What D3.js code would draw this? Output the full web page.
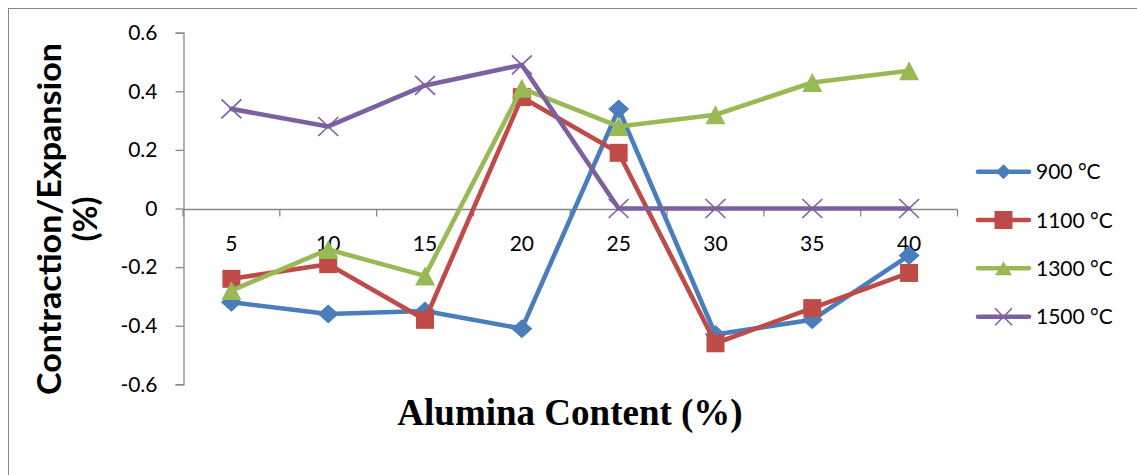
<!DOCTYPE html>
<html>
<head>
<meta charset="utf-8">
<script src="https://cdn.jsdelivr.net/npm/d3@7"></script>
<style>
  html, body { margin: 0; padding: 0; background: #fff; }
  svg { display: block; }
</style>
</head>
<body>
<svg id="chart" width="1137" height="475"></svg>
<script>
// Alumina content categories (%)
const categories = ["5", "10", "15", "20", "25", "30", "35", "40"];

// Contraction / expansion (%) per firing temperature
const series900  = [-0.32, -0.36, -0.35, -0.41, 0.34, -0.43, -0.38, -0.16];
const series1100 = [-0.24, -0.19, -0.38, 0.38, 0.19, -0.46, -0.34, -0.22];
const series1300 = [-0.28, -0.14, -0.23, 0.41, 0.28, 0.32, 0.43, 0.47];
const series1500 = [0.34, 0.28, 0.42, 0.49, 0, 0, 0, 0];

const seriesNames = ["900 °C", "1100 °C", "1300 °C", "1500 °C"];
const yTicks = [-0.6, -0.4, -0.2, 0, 0.2, 0.4, 0.6];

const colors = ["#4A7EBB", "#BE4B48", "#98B954", "#7D60A0"];
const markerKinds = ["diamond", "square", "triangle", "cross"];
const allSeries = [series900, series1100, series1300, series1500];

const svg = d3.select("#chart");
const axisColor = "#868686";
const sansFont = "Lato, 'Liberation Sans', sans-serif";

// Chart frame
svg.append("rect")
  .attr("x", 8.5).attr("y", 8.5)
  .attr("width", 1140).attr("height", 480)
  .attr("fill", "none").attr("stroke", axisColor).attr("stroke-width", 1);

const plot = { left: 183, right: 957.5, top: 32.7, bottom: 384.3 };

const x = d3.scaleBand().domain(categories).range([plot.left, plot.right]).padding(0);
const y = d3.scaleLinear().domain([-0.6, 0.6]).range([plot.bottom, plot.top]);
const cx = c => x(c) + x.bandwidth() / 2;

// Y axis
const yAxis = d3.axisLeft(y)
  .tickValues(yTicks)
  .tickSize(8)
  .tickPadding(18)
  .tickFormat(d => d === 0 ? "0" : d.toFixed(1));
const gy = svg.append("g")
  .attr("transform", `translate(${plot.left + 0.5},0)`)
  .call(yAxis);
gy.select(".domain").attr("stroke", axisColor).attr("stroke-width", 1.3);
gy.selectAll(".tick line").attr("stroke", axisColor).attr("stroke-width", 1.3);
gy.selectAll(".tick text")
  .attr("fill", "#000")
  .style("font-family", sansFont)
  .style("font-size", "21px");

// X axis along zero line, ticks at category boundaries
const y0 = Math.round(y(0)) + 0.5;
const gx = svg.append("g");
gx.append("line")
  .attr("x1", plot.left).attr("x2", plot.right)
  .attr("y1", y0).attr("y2", y0)
  .attr("stroke", axisColor).attr("stroke-width", 1.3);
const edges = categories.map(c => x(c)).concat([x(categories[categories.length - 1]) + x.bandwidth()]);
gx.selectAll("line.tick")
  .data(edges)
  .join("line")
  .attr("class", "tick")
  .attr("x1", d => d).attr("x2", d => d)
  .attr("y1", y0).attr("y2", y0 + 7)
  .attr("stroke", axisColor).attr("stroke-width", 1.3);
gx.selectAll("text")
  .data(categories)
  .join("text")
  .attr("x", d => cx(d))
  .attr("y", 251)
  .attr("text-anchor", "middle")
  .style("font-family", sansFont)
  .style("font-size", "21px")
  .text(d => d);

// Marker shapes
function markerPath(kind, s) {
  switch (kind) {
    case "diamond": {
      const rx = s.w / 2, ry = s.h / 2;
      return `M0,${-ry}L${rx},0L0,${ry}L${-rx},0Z`;
    }
    case "square": {
      const h = s.w / 2;
      return `M${-h},${-h}H${h}V${h}H${-h}Z`;
    }
    case "triangle": {
      const rx = s.w / 2, ry = s.h / 2;
      return `M0,${-ry}L${rx},${ry}L${-rx},${ry}Z`;
    }
    case "cross": {
      const rx = s.w / 2, ry = s.h / 2;
      return `M${-rx},${-ry}L${rx},${ry}M${rx},${-ry}L${-rx},${ry}`;
    }
  }
}
const plotSizes = {
  diamond: { w: 21, h: 19 },
  square: { w: 18 },
  triangle: { w: 20, h: 19 },
  cross: { w: 20, h: 19 }
};
const legendSizes = {
  diamond: { w: 15, h: 15 },
  square: { w: 18 },
  triangle: { w: 17, h: 14 },
  cross: { w: 17, h: 17 }
};

function drawMarker(g, kind, color, s, tx, ty) {
  const p = g.append("path")
    .attr("transform", `translate(${tx},${ty})`)
    .attr("d", markerPath(kind, s));
  if (kind === "cross") {
    p.attr("fill", "none").attr("stroke", color).attr("stroke-width", 1.6);
  } else {
    p.attr("fill", color).attr("stroke", "none");
  }
}

const line = d3.line()
  .x((d, i) => cx(categories[i]))
  .y(d => y(d));

allSeries.forEach((vals, si) => {
  const g = svg.append("g");
  g.append("path")
    .datum(vals)
    .attr("d", line)
    .attr("fill", "none")
    .attr("stroke", colors[si])
    .attr("stroke-width", 4.6)
    .attr("stroke-linejoin", "round")
    .attr("stroke-linecap", "round");
  vals.forEach((v, i) => {
    drawMarker(g, markerKinds[si], colors[si], plotSizes[markerKinds[si]], cx(categories[i]), y(v));
  });
});

// Legend
const legendRows = [171.7, 220, 268.3, 316.7];
seriesNames.forEach((name, si) => {
  const g = svg.append("g");
  const ly = legendRows[si];
  g.append("line")
    .attr("x1", 978).attr("x2", 1029)
    .attr("y1", ly).attr("y2", ly)
    .attr("stroke", colors[si])
    .attr("stroke-width", 4.6)
    .attr("stroke-linecap", "round");
  drawMarker(g, markerKinds[si], colors[si], legendSizes[markerKinds[si]], 1003.5, ly);
  g.append("text")
    .attr("x", 1036)
    .attr("y", ly)
    .attr("dy", "0.36em")
    .style("font-family", sansFont)
    .style("font-size", "21px")
    .text(name);
});

// Axis titles
svg.append("text")
  .attr("x", 570)
  .attr("y", 425)
  .attr("text-anchor", "middle")
  .style("font-family", "'Liberation Serif', 'Times New Roman', serif")
  .style("font-weight", "bold")
  .style("font-size", "37px")
  .text("Alumina Content (%)");

const yTitle = svg.append("g")
  .attr("transform", "translate(0,219) rotate(-90)");
yTitle.append("text")
  .attr("x", 0)
  .attr("y", 61)
  .attr("text-anchor", "middle")
  .attr("textLength", 352)
  .attr("lengthAdjust", "spacingAndGlyphs")
  .style("font-family", sansFont)
  .style("font-weight", "bold")
  .style("font-size", "33px")
  .text("Contraction/Expansion");
yTitle.append("text")
  .attr("x", 0)
  .attr("y", 97)
  .attr("text-anchor", "middle")
  .style("font-family", sansFont)
  .style("font-weight", "bold")
  .style("font-size", "33px")
  .text("(%)");
</script>
</body>
</html>
